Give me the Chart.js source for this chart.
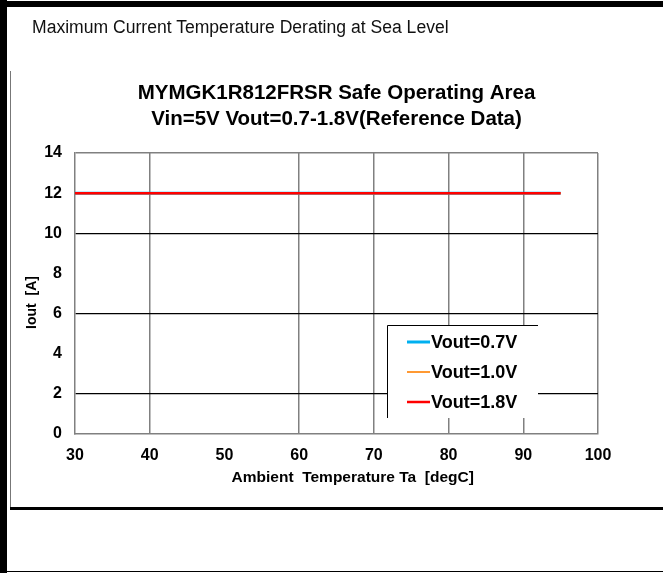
<!DOCTYPE html>
<html>
<head>
<meta charset="utf-8">
<script src="https://cdn.jsdelivr.net/npm/chart.js@4.4.1/dist/chart.umd.min.js"></script>
<style>
  html, body { margin: 0; padding: 0; background: #fff; }
  #wrap { position: relative; width: 663px; height: 573px; overflow: hidden; background: #fff; }
  .bar { position: absolute; background: #000; }
  #heading { position: absolute; left: 32px; top: 17px; font-family: "Liberation Sans", Arial, sans-serif; font-size: 18px; color: #111; white-space: nowrap; transform-origin: 0 0; transform: scaleX(0.976); }
  canvas { position: absolute; left: 0; top: 0; }
</style>
</head>
<body>
<div id="wrap">
  <canvas id="c" width="663" height="573"></canvas>
  <div class="bar" style="left:0;top:0;width:7px;height:573px;"></div>
  <div class="bar" style="left:0;top:1px;width:663px;height:6px;"></div>
  <div class="bar" style="left:10px;top:71px;width:1px;height:437px;background:#777;"></div>
  <div class="bar" style="left:10px;top:507px;width:653px;height:3px;"></div>
  <div class="bar" style="left:7px;top:571px;width:656px;height:1px;"></div>
  <div id="heading">Maximum Current Temperature Derating at Sea Level</div>
</div>
<script>
const chartTitle = ['MYMGK1R812FRSR Safe Operating Area', 'Vin=5V Vout=0.7-1.8V(Reference Data)'];
const xAxisTitle = 'Ambient  Temperature Ta  [degC]';
const yAxisTitle = 'Iout  [A]';
const seriesLabels = ['Vout=0.7V', 'Vout=1.0V', 'Vout=1.8V'];
const seriesColors = ['#00B0F0', '#FF9933', '#FF0000'];
const temperature = [30, 95];
const vout07 = [12, 12];
const vout10 = [12, 12];
const vout18 = [12, 12];
const xTicks = [30, 40, 50, 60, 70, 80, 90, 100];
const yTicks = [0, 2, 4, 6, 8, 10, 12, 14];
const yBlackGrid = [2, 6, 10];
const yGrayGrid = [14];
const xGrayGrid = [40, 60, 70, 80, 90, 100];

const FONT = '"Liberation Sans", Arial, sans-serif';
const seriesValues = [vout07, vout10, vout18];
const lineWidths = [3, 2, 2.5];
const drawOrder = [2, 1, 0];

const datasets = seriesValues.map((vals, i) => ({
  label: seriesLabels[i],
  data: temperature.map((t, k) => ({ x: t, y: vals[k] })),
  borderColor: seriesColors[i],
  backgroundColor: seriesColors[i],
  borderWidth: lineWidths[i],
  pointRadius: 0,
  tension: 0,
  order: drawOrder[i]
}));

const customLegendAndTitles = {
  id: 'customLegendAndTitles',
  afterDraw(chart) {
    const ctx = chart.ctx;
    const ca = chart.chartArea;
    ctx.save();
    // axis titles
    ctx.fillStyle = '#000';
    ctx.font = 'bold 15.5px ' + FONT;
    ctx.textAlign = 'center';
    ctx.textBaseline = 'middle';
    ctx.fillText(xAxisTitle, ca.left + (ca.right - ca.left) * 0.531, ca.bottom + 44);
    ctx.save();
    ctx.translate(32, ca.top + (ca.bottom - ca.top) * 0.532);
    ctx.rotate(-Math.PI / 2);
    ctx.font = 'bold 14px ' + FONT;
    ctx.fillText(yAxisTitle, 0, 0);
    ctx.restore();
    // legend
    const bx = ca.left + 312, by = ca.top + 172, bw = 151, bh = 93;
    ctx.fillStyle = '#fff';
    ctx.fillRect(bx, by, bw, bh);
    ctx.strokeStyle = '#000';
    ctx.lineWidth = 1;
    ctx.beginPath();
    ctx.moveTo(bx + 0.5, by + bh);
    ctx.lineTo(bx + 0.5, by + 0.5);
    ctx.lineTo(bx + bw, by + 0.5);
    ctx.stroke();
    chart.data.datasets.forEach((ds, i) => {
      const yy = by + 17 + i * 30;
      ctx.strokeStyle = ds.borderColor;
      ctx.lineWidth = ds.borderWidth;
      ctx.beginPath();
      ctx.moveTo(bx + 20, yy);
      ctx.lineTo(bx + 43, yy);
      ctx.stroke();
      ctx.fillStyle = '#000';
      ctx.font = 'bold 18px ' + FONT;
      ctx.textAlign = 'left';
      ctx.textBaseline = 'middle';
      ctx.fillText(ds.label, bx + 44, yy + 1);
    });
    ctx.restore();
  }
};

new Chart(document.getElementById('c'), {
  type: 'line',
  data: { datasets },
  options: {
    responsive: false,
    devicePixelRatio: 1,
    animation: false,
    events: [],
    layout: { padding: { left: 20, right: 65, top: 0, bottom: 79 } },
    plugins: {
      legend: { display: false },
      tooltip: { enabled: false },
      title: {
        display: true,
        fullSize: false,
        text: chartTitle,
        color: '#000',
        font: { family: FONT, size: 20.5, weight: 'bold', lineHeight: '26px' },
        padding: { top: 80, bottom: 21 }
      }
    },
    scales: {
      x: {
        type: 'linear',
        min: xTicks[0],
        max: xTicks[xTicks.length - 1],
        afterBuildTicks(scale) { scale.ticks = xTicks.map(v => ({ value: v })); },
        afterFit(scale) { scale.height = 60; },
        ticks: { color: '#000', font: { family: FONT, size: 16, weight: 'bold' }, padding: 12, maxRotation: 0 },
        grid: {
          drawTicks: false,
          lineWidth: 1.5,
          color: c => (c.tick && xGrayGrid.includes(c.tick.value)) ? '#808080' : 'rgba(0,0,0,0)'
        },
        border: { display: true, color: '#808080', width: 1.5 }
      },
      y: {
        type: 'linear',
        min: yTicks[0],
        max: yTicks[yTicks.length - 1],
        afterBuildTicks(scale) { scale.ticks = yTicks.map(v => ({ value: v })); },
        afterFit(scale) { scale.width = 55; },
        ticks: { color: '#000', font: { family: FONT, size: 16, weight: 'bold' }, padding: 13 },
        grid: {
          drawTicks: false,
          lineWidth: c => (c.tick && yBlackGrid.includes(c.tick.value)) ? 1.2 : 1.5,
          color: c => {
            if (!c.tick) return 'rgba(0,0,0,0)';
            if (yBlackGrid.includes(c.tick.value)) return '#000';
            if (yGrayGrid.includes(c.tick.value)) return '#808080';
            return 'rgba(0,0,0,0)';
          }
        },
        border: { display: true, color: '#808080', width: 1.5 }
      }
    }
  },
  plugins: [customLegendAndTitles]
});
</script>
</body>
</html>
